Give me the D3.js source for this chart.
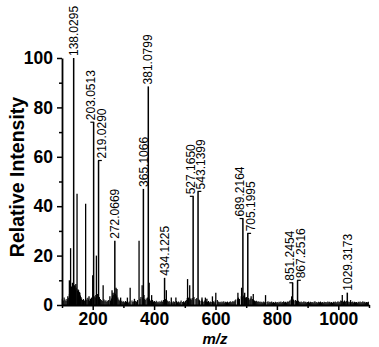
<!DOCTYPE html>
<html>
<head>
<meta charset="utf-8">
<script src="https://cdn.jsdelivr.net/npm/d3@7"></script>
<style>
  html, body { margin: 0; padding: 0; background: #fff; }
  svg { display: block; }
  .tick-label { font-family: "Liberation Sans", Arial, sans-serif; font-weight: bold; font-size: 17.5px; fill: #000; }
  .peak-label { font-family: "Liberation Sans", Arial, sans-serif; font-size: 12px; fill: #000; }
  .axis-title { font-family: "Liberation Sans", Arial, sans-serif; font-weight: bold; fill: #000; }
</style>
</head>
<body>
<div id="chart"></div>
<script>
// labelled peaks: [m/z, relative intensity]
const labelledPeaks = [
  [138.0295, 100], [203.0513, 74], [219.0290, 58.5], [272.0669, 26],
  [365.1066, 47], [381.0799, 88.5], [434.1225, 11], [527.1650, 44],
  [543.1399, 46], [689.2164, 35], [705.1995, 29], [851.2454, 9],
  [867.2516, 10], [1029.3173, 5]
];

// other visible peaks (no label)
const minorPeaks = [
  [119, 3.5], [124, 10], [128, 23], [134, 9], [141, 8], [145, 8.5], [149, 45],
  [154, 6], [158, 5], [177, 41], [188, 3.5], [200, 12], [212, 20], [234, 8],
  [256, 3.5], [263, 6], [266, 5], [276, 7], [279, 6.5], [291, 3], [313, 3],
  [322, 7], [336, 2.5], [351, 26], [361, 8], [367, 4], [384, 9], [392, 4],
  [440, 6], [456, 3], [471, 3], [509, 10.5], [516, 8], [556, 3], [567, 3],
  [572, 2.5], [590, 3.5], [601, 5], [673, 5], [685, 7], [695, 5], [716, 3.5],
  [723, 4.5], [763, 4], [848, 3.5], [1013, 4], [1040, 2]
];

// baseline noise
const noise = [
  [101, 2.5], [104, 1.8], [107, 3.0], [110, 2.2], [113, 1.6], [116, 2.4], [119, 1.9], [122, 2.8],
  [124, 4.5], [127, 6.0], [129, 5.5], [131, 7.5], [133, 6.8], [135, 8.0], [137, 7.2], [140, 6.5],
  [142, 7.8], [144, 6.2], [146, 7.0], [150, 5.8], [152, 6.4], [155, 4.6], [157, 5.2], [160, 3.8],
  [162, 3.2], [164, 2.6], [167, 2.0], [170, 2.4], [173, 1.8], [178, 2.6], [181, 2.0], [184, 2.9],
  [187, 2.2], [190, 1.7], [193, 2.5], [196, 3.0], [202, 4.2], [205, 3.5], [208, 3.0], [210, 4.0],
  [216, 4.5], [222, 3.2], [225, 2.4], [228, 2.0], [231, 1.6], [237, 2.2], [240, 1.5], [243, 1.9],
  [246, 1.3], [249, 1.7], [252, 2.0], [258, 1.8], [261, 2.6], [264, 3.5], [267, 4.2], [270, 5.0],
  [274, 4.6], [278, 3.8], [282, 3.0], [285, 2.2], [288, 1.8], [292, 1.4], [295, 1.7], [298, 1.2],
  [301, 1.5], [304, 1.1], [307, 1.6], [310, 1.3], [316, 1.0], [319, 1.4], [328, 1.8], [331, 1.2],
  [334, 1.5], [337, 1.0], [340, 1.6], [343, 1.3], [346, 2.0], [354, 2.5], [357, 3.2], [363, 3.0],
  [368, 2.4], [371, 2.0], [374, 2.6], [378, 3.0], [385, 2.5], [388, 1.8], [395, 2.0], [398, 1.4],
  [401, 1.6], [404, 1.2], [407, 1.7], [410, 1.1], [413, 1.4], [416, 1.0], [419, 1.5], [422, 1.2],
  [425, 1.8], [428, 1.3], [431, 2.0], [437, 2.4], [443, 1.8], [446, 1.3], [449, 1.6], [452, 1.1],
  [458, 1.4], [461, 1.0], [464, 1.5], [467, 1.2], [473, 1.6], [476, 1.1], [479, 1.4], [482, 1.0],
  [485, 1.3], [488, 1.8], [493, 1.2], [496, 1.5], [499, 1.1], [502, 1.6], [505, 2.0], [508, 2.8],
  [512, 3.0], [518, 2.6], [521, 2.2], [524, 2.8], [530, 3.2], [536, 2.4], [539, 2.8], [546, 2.2],
  [548, 1.9], [553, 1.6], [556, 2.2], [558, 1.5], [562, 1.3], [565, 1.8], [568, 2.4], [571, 1.4],
  [574, 1.2], [577, 1.6], [580, 1.1], [583, 1.4], [586, 1.2], [593, 1.5], [596, 1.1], [599, 1.8],
  [606, 2.0], [609, 1.4], [612, 1.1], [615, 1.3], [618, 1.0], [621, 1.4], [624, 1.1], [627, 1.5],
  [630, 1.0], [633, 1.3], [636, 1.1], [639, 1.4], [642, 1.0], [645, 1.2], [648, 1.5], [651, 1.1],
  [654, 1.3], [657, 1.6], [660, 1.2], [663, 1.8], [666, 2.2], [672, 2.6], [675, 3.0], [678, 2.4],
  [684, 3.5], [687, 3.2], [692, 3.8], [698, 3.0], [701, 3.2], [708, 2.8], [710, 2.2], [715, 2.6],
  [721, 2.4], [724, 2.0], [727, 1.8], [730, 1.5], [733, 1.7], [736, 1.3], [739, 1.5], [742, 1.2],
  [745, 1.4], [748, 1.1], [751, 1.3], [754, 1.0], [757, 1.4], [760, 1.1], [768, 1.2], [771, 1.5],
  [774, 1.0], [777, 1.3], [780, 1.1], [783, 1.4], [786, 1.0], [789, 1.2], [792, 0.9], [795, 1.3],
  [798, 1.0], [801, 1.2], [804, 0.9], [807, 1.3], [810, 1.1], [813, 1.4], [816, 1.0], [819, 1.2],
  [822, 1.5], [825, 1.1], [828, 1.3], [831, 1.0], [834, 1.4], [837, 1.2], [840, 1.6], [843, 1.9],
  [847, 2.4], [854, 2.2], [856, 1.8], [861, 2.0], [864, 1.6], [870, 1.7], [873, 1.3], [876, 1.1],
  [879, 1.4], [882, 1.0], [885, 1.2], [888, 1.5], [891, 1.1], [894, 1.3], [897, 1.0], [900, 1.2],
  [903, 1.4], [906, 1.0], [909, 1.3], [912, 1.1], [915, 1.2], [918, 0.9], [921, 1.3], [924, 1.5],
  [927, 1.0], [930, 1.2], [933, 0.9], [936, 1.3], [939, 1.1], [942, 1.4], [945, 1.0], [948, 1.2],
  [951, 0.9], [954, 1.3], [957, 1.1], [960, 1.2], [963, 1.0], [966, 1.4], [969, 1.1], [972, 1.3],
  [975, 1.0], [978, 1.2], [981, 0.9], [984, 1.3], [987, 1.1], [990, 1.4], [993, 1.0], [996, 1.2],
  [999, 1.5], [1002, 1.1], [1005, 1.3], [1008, 1.8], [1011, 1.6], [1017, 1.4], [1020, 1.8], [1023, 1.3],
  [1026, 1.6], [1032, 1.4], [1035, 1.1], [1038, 1.3], [1041, 1.0], [1044, 1.2], [1047, 1.4], [1050, 1.0],
  [1053, 1.3], [1056, 1.1], [1059, 1.2], [1062, 0.9], [1065, 1.3], [1068, 1.1], [1071, 1.4], [1074, 1.0],
  [1077, 1.2], [1080, 1.5], [1083, 1.1], [1086, 1.3], [1089, 1.0], [1092, 1.2], [1095, 1.1], [1098, 1.3]
];

const xMajorTicks = [200, 400, 600, 800, 1000];
const xMinorTicks = [100, 300, 500, 700, 900, 1100];
const yMajorTicks = [0, 20, 40, 60, 80, 100];
const yMinorTicks = [10, 30, 50, 70, 90];

const width = 379, height = 347;

const svg = d3.select("#chart").append("svg")
    .attr("width", width).attr("height", height);

const xScale = d3.scaleLinear().domain([100, 1100]).range([62, 369]);
const yScale = d3.scaleLinear().domain([0, 100]).range([305, 58]);

// noise + minor peaks + labelled peaks, all as sticks
const sticksG = svg.append("g");
sticksG.selectAll(".noise").data(noise).enter().append("line")
    .attr("class", "noise")
    .attr("x1", d => xScale(d[0])).attr("x2", d => xScale(d[0]))
    .attr("y1", yScale(0)).attr("y2", d => yScale(d[1]))
    .attr("stroke", "#000").attr("stroke-width", 1.1);

sticksG.selectAll(".minor").data(minorPeaks).enter().append("line")
    .attr("class", "minor")
    .attr("x1", d => xScale(d[0])).attr("x2", d => xScale(d[0]))
    .attr("y1", yScale(0)).attr("y2", d => yScale(d[1]))
    .attr("stroke", "#000").attr("stroke-width", 1.3);

sticksG.selectAll(".peak").data(labelledPeaks).enter().append("line")
    .attr("class", "peak")
    .attr("x1", d => xScale(d[0])).attr("x2", d => xScale(d[0]))
    .attr("y1", yScale(0)).attr("y2", d => yScale(d[1]))
    .attr("stroke", "#000").attr("stroke-width", 1.5);

// label layout: push apart neighbours whose text would overlap
const labelLen = 52, minGap = 10.5;
const labels = labelledPeaks.map(d => ({
    mz: d[0], v: d[1], px: xScale(d[0]), lx: xScale(d[0]), top: yScale(d[1]) - 2
}));
for (let i = 1; i < labels.length; i++) {
    const a = labels[i - 1], b = labels[i];
    const overlapY = Math.min(a.top, b.top) > Math.max(a.top, b.top) - labelLen;
    const dx = b.lx - a.lx;
    if (overlapY && dx < minGap) {
        const shift = (minGap - dx) / 2;
        a.lx -= shift;
        b.lx += shift;
    }
}

const labelG = svg.append("g");
labels.forEach(l => {
    if (Math.abs(l.lx - l.px) > 0.5) {
        // small leader from the peak top to the moved label
        labelG.append("line")
            .attr("x1", Math.min(l.px, l.lx) - 0.5).attr("x2", Math.max(l.px, l.lx) + 0.5)
            .attr("y1", l.top + 2).attr("y2", l.top + 2)
            .attr("stroke", "#000").attr("stroke-width", 1.2);
    }
    labelG.append("text")
        .attr("class", "peak-label")
        .attr("transform", `translate(${l.lx}, ${l.top}) rotate(-90)`)
        .attr("dy", "0.35em")
        .text(l.mz.toFixed(4));
});

// axes
const xAxisG = svg.append("g").attr("transform", `translate(0, ${yScale(0)})`);
xAxisG.call(d3.axisBottom(xScale).tickValues(xMajorTicks).tickFormat(d3.format("d"))
    .tickSize(5).tickSizeOuter(0).tickPadding(3));
xAxisG.append("g").call(d3.axisBottom(xScale).tickValues(xMinorTicks).tickSize(3).tickSizeOuter(0).tickFormat(""))
    .select(".domain").remove();

const yAxisG = svg.append("g").attr("transform", `translate(${xScale(100)}, 0)`);
yAxisG.call(d3.axisLeft(yScale).tickValues(yMajorTicks).tickSize(5).tickSizeOuter(0).tickPadding(4));
yAxisG.append("g").call(d3.axisLeft(yScale).tickValues(yMinorTicks).tickSize(3).tickSizeOuter(0).tickFormat(""))
    .select(".domain").remove();

svg.selectAll(".domain").attr("stroke", "#000").attr("stroke-width", 1.8);
svg.selectAll(".tick line").attr("stroke", "#000").attr("stroke-width", 1.5);
svg.selectAll(".tick text").attr("class", "tick-label").attr("font-size", null).attr("font-family", null);

// axis titles
svg.append("text")
    .attr("class", "axis-title")
    .attr("transform", `translate(24, 177) rotate(-90)`)
    .attr("text-anchor", "middle")
    .attr("font-size", "19.5px")
    .text("Relative Intensity");

svg.append("text")
    .attr("class", "axis-title")
    .attr("x", 215).attr("y", 343.5)
    .attr("text-anchor", "middle")
    .attr("font-size", "15px")
    .attr("font-style", "italic")
    .text("m/z");
</script>
</body>
</html>
